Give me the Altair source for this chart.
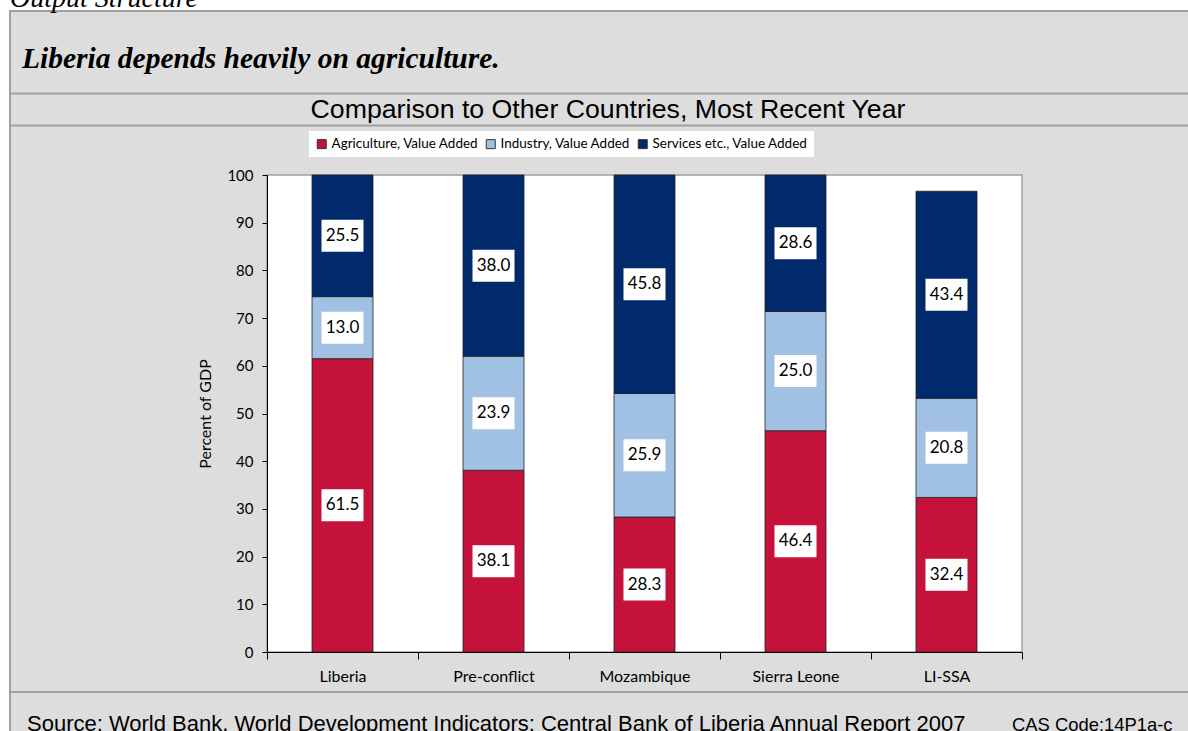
import altair as alt
import pandas as pd

countries = ["Liberia", "Pre-conflict", "Mozambique", "Sierra Leone", "LI-SSA"]
series_names = ["Agriculture, Value Added", "Industry, Value Added", "Services etc., Value Added"]
agriculture = [61.5, 38.1, 28.3, 46.4, 32.4]
industry = [13.0, 23.9, 25.9, 25.0, 20.8]
services = [25.5, 38.0, 45.8, 28.6, 43.4]
colors = ["#C4123A", "#A0C0E4", "#002A6C"]
y_ticks = [0, 10, 20, 30, 40, 50, 60, 70, 80, 90, 100]

rows = []
for i, c in enumerate(countries):
    for k, (name, vals) in enumerate(zip(series_names, [agriculture, industry, services])):
        rows.append({"country": c, "series": name, "order": k, "value": vals[i]})
df = pd.DataFrame(rows)

W, H = 755, 477
PL, PT = 267, 175
FONT = "Lato"
GRID = "#A0A0A0"

one = pd.DataFrame({"a": [0]})

def txt(s, x, y, size, font, align="left", italic=False, bold=False):
    return alt.Chart(one).mark_text(
        text=s, align=align, baseline="alphabetic", fontSize=size, font=font,
        fontStyle="italic" if italic else "normal",
        fontWeight="bold" if bold else "normal", color="black",
    ).encode(x=alt.value(x), y=alt.value(y))

def hrule(y):
    return alt.Chart(one).mark_rule(color=GRID, strokeWidth=2).encode(
        x=alt.value(10 - PL), x2=alt.value(1188 - PL + 5), y=alt.value(y))

grey_box = alt.Chart(one).mark_rect(fill="#DDDDDD", stroke=GRID, strokeWidth=2).encode(
    x=alt.value(10 - PL), x2=alt.value(1188 - PL + 6),
    y=alt.value(11 - PT), y2=alt.value(731 - PT + 6))

plot_bg = alt.Chart(one).mark_rect(fill="white", stroke=GRID, strokeWidth=1.5).encode(
    x=alt.value(0), x2=alt.value(W), y=alt.value(0), y2=alt.value(H))

base = alt.Chart(df).transform_stack(
    stack="value", groupby=["country"], as_=["v0", "v1"],
    sort=[alt.SortField("order", order="ascending")],
).transform_calculate(mid="(datum.v0 + datum.v1) / 2")

x_axis = alt.Axis(title=None, tickBand="extent", labelAngle=0, domainColor="black",
                  tickColor="black", tickSize=7, labelPadding=9, labelFont=FONT,
                  labelFontSize=16, labelColor="black", zindex=1, grid=False)
y_axis = alt.Axis(values=y_ticks, title="Percent of GDP", grid=False, domainColor="black",
                  tickColor="black", tickSize=5, labelPadding=9, labelFont=FONT,
                  labelFontSize=15, labelColor="black", titleFont=FONT,
                  titleFontSize=16, titleFontWeight="normal", titleColor="black",
                  titleX=-62, titleY=H / 2, titleAngle=270, titleAlign="center",
                  titleBaseline="middle", zindex=1)
x_scale = alt.Scale(paddingInner=0, paddingOuter=0)
y_scale = alt.Scale(domain=[0, 100], nice=False)

def xenc():
    return alt.X("country:N", sort=countries, scale=x_scale, axis=x_axis)

def yenc(field):
    return alt.Y(field, scale=y_scale, axis=y_axis, title="Percent of GDP")

bars = base.mark_bar(size=61, stroke="#222222", strokeWidth=0.8).encode(
    x=xenc(),
    y=yenc("v0:Q"),
    y2="v1:Q",
    color=alt.Color("series:N", sort=series_names,
                    scale=alt.Scale(domain=series_names, range=colors),
                    legend=alt.Legend(title=None, orient="none", legendX=42, legendY=-44,
                                      direction="horizontal", fillColor="white", padding=6,
                                      symbolType="square", symbolSize=81,
                                      symbolStrokeColor="#333333", symbolStrokeWidth=1,
                                      labelFont=FONT, labelFontSize=13.5, labelColor="black",
                                      labelLimit=400, columnPadding=5, labelOffset=3)),
    order=alt.Order("order:Q"),
)

box_shape = "M-1,-0.762L1,-0.762L1,0.762L-1,0.762Z"
boxes = base.mark_point(shape=box_shape, size=1764, filled=True, fill="white",
                        opacity=1, strokeWidth=0).encode(
    x=xenc(),
    y=yenc("mid:Q"),
)

labels = base.mark_text(font=FONT, fontSize=17, color="black", baseline="middle").encode(
    x=xenc(),
    y=yenc("mid:Q"),
    text=alt.Text("value:Q", format=".1f"),
)

chart = alt.layer(
    grey_box,
    hrule(93.5 - PT), hrule(125.5 - PT), hrule(692 - PT),
    txt("Output Structure", 10 - PL, 7 - PT, 28, "Liberation Serif", italic=True),
    txt("Liberia depends heavily on agriculture.", 22 - PL, 68 - PT, 29.5, "Liberation Serif",
        italic=True, bold=True),
    txt("Comparison to Other Countries, Most Recent Year", 608 - PL, 118 - PT, 26.7,
        "Liberation Sans", align="center"),
    txt("Source: World Bank, World Development Indicators: Central Bank of Liberia Annual Report 2007",
        27 - PL, 731 - PT, 22, "Liberation Sans"),
    txt("CAS Code:14P1a-c", 1012 - PL, 731 - PT, 18.4, "Liberation Sans"),
    plot_bg,
    bars, boxes, labels,
).properties(
    width=W, height=H,
    padding={"left": PL, "top": PT, "right": 1188 - PL - W, "bottom": 731 - PT - H},
    autosize=alt.AutoSizeParams(type="none"),
).configure(background="white").configure_view(strokeWidth=0)

chart.save("out.html", embed_options={"renderer": "svg", "actions": False})
